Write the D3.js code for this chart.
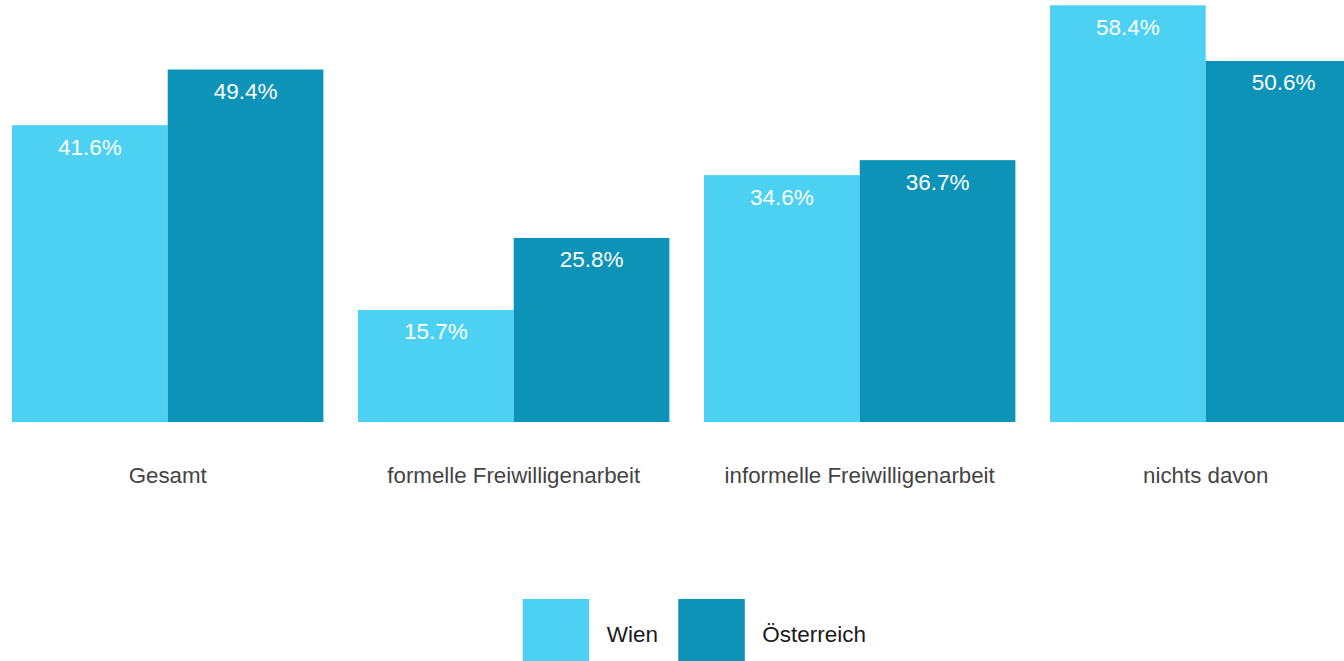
<!DOCTYPE html>
<html>
<head>
<meta charset="utf-8">
<script src="https://cdn.jsdelivr.net/npm/d3@7"></script>
<style>
  html, body { margin: 0; padding: 0; background: #fff; overflow: hidden; }
  text { font-family: "Liberation Sans", Arial, sans-serif; }
</style>
</head>
<body>
<svg id="chart" width="1344" height="661"></svg>
<script>
const categories = ['Gesamt', 'formelle Freiwilligenarbeit', 'informelle Freiwilligenarbeit', 'nichts davon'];
const seriesNames = ['Wien', 'Österreich'];
const wienValues = [41.6, 15.7, 34.6, 58.4];
const oesterreichValues = [49.4, 25.8, 36.7, 50.6];
const seriesColors = ['#4dd1f3', '#0d93b8'];

const width = 1344, height = 661;
const svg = d3.select('#chart');

const data = categories.map((c, i) => ({
  category: c,
  values: [
    { key: seriesNames[0], value: wienValues[i] },
    { key: seriesNames[1], value: oesterreichValues[i] }
  ]
}));

// group scale, last group runs off the right edge like the original
const x0 = d3.scaleBand()
  .domain(categories)
  .range([-5.3, 1378.7])
  .paddingInner(0.1)
  .paddingOuter(0.05);

const x1 = d3.scaleBand()
  .domain(seriesNames)
  .range([0, x0.bandwidth()]);

const y = d3.scaleLinear()
  .domain([0, d3.max(wienValues.concat(oesterreichValues))])
  .range([422, 5.3]);

const color = d3.scaleOrdinal().domain(seriesNames).range(seriesColors);

const groups = svg.append('g')
  .selectAll('g')
  .data(data)
  .enter()
  .append('g')
    .attr('transform', d => `translate(${x0(d.category)},0)`);

groups.selectAll('rect')
  .data(d => d.values)
  .enter()
  .append('rect')
    .attr('x', d => x1(d.key))
    .attr('y', d => y(d.value))
    .attr('width', x1.bandwidth())
    .attr('height', d => y(0) - y(d.value))
    .attr('fill', d => color(d.key));

// value labels inside the top of each bar
groups.selectAll('text.value')
  .data(d => d.values)
  .enter()
  .append('text')
    .attr('class', 'value')
    .attr('x', d => x1(d.key) + x1.bandwidth() / 2)
    .attr('y', d => y(d.value) + 29.5)
    .attr('text-anchor', 'middle')
    .attr('fill', '#ffffff')
    .style('font-size', '22.5px')
    .text(d => d.value.toFixed(1) + '%');

// category labels under the bars
svg.append('g')
  .selectAll('text')
  .data(categories)
  .enter()
  .append('text')
    .attr('x', d => x0(d) + x0.bandwidth() / 2)
    .attr('y', 483)
    .attr('text-anchor', 'middle')
    .attr('fill', '#444444')
    .style('font-size', '22.3px')
    .text(d => d);

// legend
const legend = svg.append('g')
  .attr('transform', 'translate(522.7,599)');

const items = legend.selectAll('g')
  .data(seriesNames)
  .enter()
  .append('g')
    .attr('transform', (d, i) => `translate(${i * 155.6},0)`);

items.append('rect')
  .attr('width', 66.5)
  .attr('height', 70)
  .attr('fill', d => color(d));

items.append('text')
  .attr('x', 84)
  .attr('y', 43)
  .attr('fill', '#1a1a1a')
  .style('font-size', '22.5px')
  .text(d => d);
</script>
</body>
</html>
